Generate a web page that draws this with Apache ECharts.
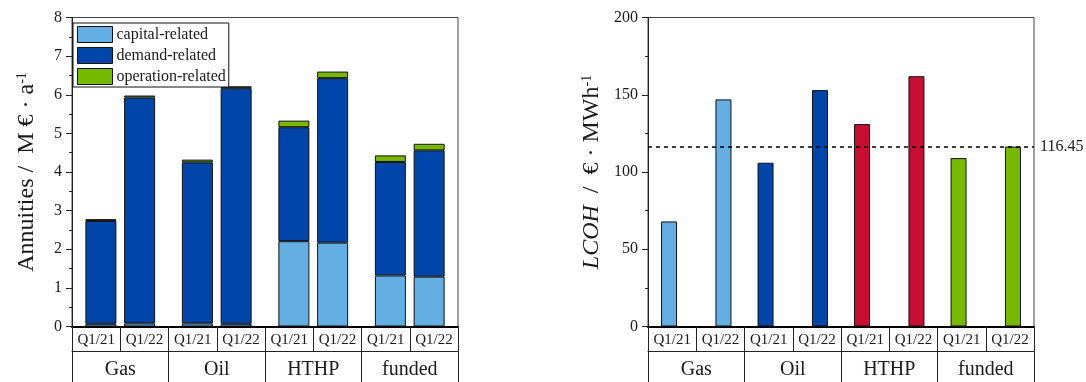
<!DOCTYPE html>
<html>
<head>
<meta charset="utf-8">
<script src="https://cdn.jsdelivr.net/npm/echarts@6/dist/echarts.min.js"></script>
<style>
  html, body { margin: 0; padding: 0; background: #fff; }
  #chart { width: 1086px; height: 382px; }
</style>
</head>
<body>
<div id="chart"></div>
<script>
// Technology groups and the two reference quarters shown for each
const groups = ['Gas', 'Oil', 'HTHP', 'funded'];
const periods = ['Q1/21', 'Q1/22'];

// Annuities in M€ per year, split into cost components
const capital21   = [0.07, 0.08, 2.21, 1.32];
const demand21    = [2.66, 4.17, 2.95, 2.94];
const operation21 = [0.05, 0.07, 0.17, 0.17];
const capital22   = [0.08, 0.07, 2.17, 1.29];
const demand22    = [5.85, 6.10, 4.26, 3.27];
const operation22 = [0.05, 0.05, 0.17, 0.17];

// Levelized cost of heat in € per MWh
const lcoh21 = [68, 106, 131, 109];
const lcoh22 = [147, 153, 162, 116.45];
const lcohReference = 116.45;

// Axis ticks
const annuityTicks = { min: 0, max: 8, interval: 1 };
const lcohTicks = { min: 0, max: 200, interval: 50 };

const componentNames = ['capital-related', 'demand-related', 'operation-related'];
const componentColors = ['#63AFE3', '#0046AA', '#77B800'];
const groupColors = ['#63AFE3', '#0046AA', '#C80F33', '#77B800'];

const serif = '"Liberation Serif", "DejaVu Serif", serif';
const ink = '#1a1a1a';
const periodLabels = groups.flatMap(() => periods);

function valueAxis(gridIndex, ticks, name, rich, nameGap) {
  return {
    type: 'value', gridIndex,
    min: ticks.min, max: ticks.max, interval: ticks.interval,
    name, nameLocation: 'middle', nameGap,
    nameTextStyle: { rich },
    axisLine: { show: true, lineStyle: { color: '#222', width: 1 } },
    axisTick: { show: true, length: 6, lineStyle: { color: '#222' } },
    minorTick: { show: true, splitNumber: 2, length: 3, lineStyle: { color: '#222' } },
    splitLine: { show: false },
    axisLabel: { fontFamily: serif, fontSize: 16, color: ink, margin: 10 }
  };
}

function categoryAxes(gridIndex) {
  return [
    { // bar positions
      type: 'category', gridIndex, data: groups, position: 'bottom', offset: 0,
      axisLine: { show: true, lineStyle: { color: '#000', width: 2 } },
      axisTick: { show: false }, axisLabel: { show: false }
    },
    { // quarter row
      type: 'category', gridIndex, data: periodLabels, position: 'bottom', offset: 0,
      axisLine: { show: false },
      axisTick: { show: true, length: 25, interval: 0, lineStyle: { color: '#222' } },
      axisLabel: { interval: 0, fontFamily: serif, fontSize: 15, color: ink, margin: 6 }
    },
    { // group row
      type: 'category', gridIndex, data: groups, position: 'bottom', offset: 25,
      axisLine: { show: true, lineStyle: { color: '#222', width: 1 } },
      axisTick: { show: true, length: 40, interval: 0, lineStyle: { color: '#222' } },
      axisLabel: { interval: 0, fontFamily: serif, fontSize: 20, color: ink, margin: 8 }
    }
  ];
}

const barBorder = { borderColor: '#111', borderWidth: 1 };

const annuitySeries = [];
[[capital21, demand21, operation21, 'q21'], [capital22, demand22, operation22, 'q22']]
  .forEach(([cap, dem, op, stack]) => {
    [cap, dem, op].forEach((values, k) => {
      annuitySeries.push({
        type: 'bar', name: componentNames[k], stack,
        xAxisIndex: 0, yAxisIndex: 0,
        data: values, barWidth: 31, barGap: '25%',
        itemStyle: Object.assign({ color: componentColors[k] }, barBorder),
        emphasis: { disabled: true }
      });
    });
  });

const lcohSeries = [lcoh21, lcoh22].map((values, i) => ({
  type: 'bar', name: periods[i],
  xAxisIndex: 3, yAxisIndex: 1,
  data: values, barWidth: 16, barGap: '240%',
  itemStyle: Object.assign({ color: p => groupColors[p.dataIndex] }, barBorder),
  emphasis: { disabled: true },
  markLine: i === 1 ? {
    silent: true, symbol: 'none',
    lineStyle: { color: '#000', type: [4, 4], width: 1.5 },
    label: { show: true, position: 'end', formatter: String(lcohReference),
             fontFamily: serif, fontSize: 16, color: ink, distance: 6 },
    data: [{ yAxis: lcohReference }]
  } : undefined
}));

const titleRich = {
  t: { fontFamily: serif, fontSize: 24, color: ink },
  i: { fontFamily: serif, fontSize: 24, color: ink, fontStyle: 'italic' },
  s: { fontFamily: serif, fontSize: 14, color: ink, verticalAlign: 'top' }
};

const chart = echarts.init(document.getElementById('chart'), null, { renderer: 'canvas' });
chart.setOption({
  animation: false,
  backgroundColor: '#fff',
  grid: [
    { left: 72, right: 628, top: 17.5, bottom: 55.5, show: true, borderColor: '#444', borderWidth: 1 },
    { left: 648, right: 52, top: 17.5, bottom: 55.5, show: true, borderColor: '#444', borderWidth: 1 }
  ],
  legend: {
    data: componentNames,
    orient: 'vertical', left: 73, top: 23,
    itemWidth: 35, itemHeight: 16, itemGap: 4,
    padding: [3, 3, 2, 4],
    borderColor: '#111', borderWidth: 1, backgroundColor: '#fff',
    icon: 'rect',
    itemStyle: { borderColor: '#111', borderWidth: 1 },
    textStyle: { fontFamily: serif, fontSize: 16, color: ink, padding: [0, 0, 0, -1] },
    selectedMode: false
  },
  xAxis: categoryAxes(0).concat(categoryAxes(1)),
  yAxis: [
    valueAxis(0, annuityTicks, '{t|Annuities /  M € · a}{s|-1}', titleRich, 33),
    valueAxis(1, lcohTicks, '{i|LCOH}{t|  /  € · MWh}{s|-1}', titleRich, 44)
  ],
  series: annuitySeries.concat(lcohSeries)
});
</script>
</body>
</html>
